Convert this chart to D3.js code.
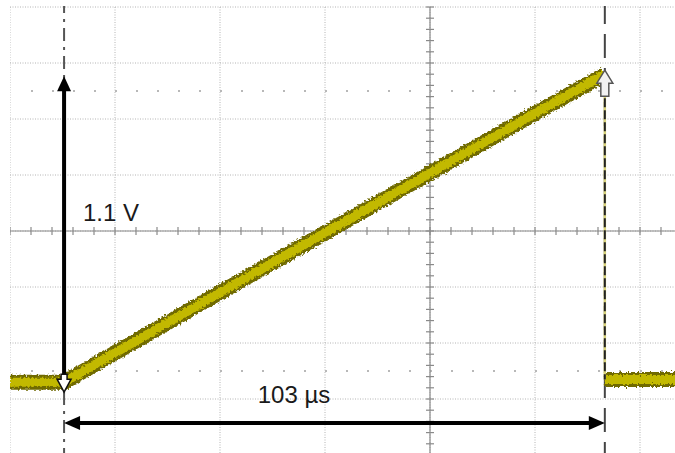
<!DOCTYPE html>
<html>
<head>
<meta charset="utf-8">
<script src="https://cdn.jsdelivr.net/npm/d3@7"></script>
<style>
  html, body { margin: 0; padding: 0; background: #fff; }
  svg { display: block; }
</style>
</head>
<body>
<div id="scope"></div>
<script>
// Oscilloscope capture: ramp of 1.1 V over 103 us (20 us/div, 0.2 V/div)

// trace (time in us from left graticule edge, volts from centre)
const rampTime = [0, 10.3, 40, 70, 100, 113.3];
const rampVolt = [-0.54, -0.54, -0.22, 0.10, 0.42, 0.56];
const tailTime = [113.3, 126.7];
const tailVolt = [-0.53, -0.53];

// cursors
const cursorTime = [10.3, 113.3];
const cursorVolt = [-0.54, 0.56];
const refLevels = [0.5, -0.5]; // dotted reference rows

const deltaV = "1.1 V";
const deltaT = "103 µs";

const W = 675, H = 453;

const x = d3.scaleLinear().domain([0, 140]).range([10, 745]);
const y = d3.scaleLinear().domain([-0.8, 0.8]).range([455, 7]);

const svg = d3.select("#scope").append("svg")
  .attr("width", W).attr("height", H);

const defs = svg.append("defs");
defs.append("clipPath").attr("id", "clip-screen")
  .append("rect").attr("x", 10).attr("y", 6).attr("width", W - 10).attr("height", H - 6);

const f = defs.append("filter").attr("id", "rough")
  .attr("x", "-5%").attr("y", "-5%").attr("width", "110%").attr("height", "110%");
f.append("feTurbulence").attr("type", "fractalNoise")
  .attr("baseFrequency", 0.5).attr("numOctaves", 2).attr("seed", 3).attr("result", "n");
f.append("feDisplacementMap").attr("in", "SourceGraphic").attr("in2", "n")
  .attr("scale", 6).attr("xChannelSelector", "R").attr("yChannelSelector", "G");

const screen = svg.append("g").attr("clip-path", "url(#clip-screen)");

// graticule
const xt = d3.range(0, 141, 20);
const yt = d3.range(-0.8, 0.81, 0.2);
screen.selectAll(".vgrid").data(xt).join("line")
  .attr("x1", d => x(d)).attr("x2", d => x(d))
  .attr("y1", y(0.8)).attr("y2", y(-0.8))
  .attr("stroke", "#b4b4b4").attr("stroke-width", 1)
  .attr("stroke-dasharray", "1,1.5");
screen.selectAll(".hgrid").data(yt).join("line")
  .attr("y1", d => y(d)).attr("y2", d => y(d))
  .attr("x1", x(0)).attr("x2", x(140))
  .attr("stroke", "#b4b4b4").attr("stroke-width", 1)
  .attr("stroke-dasharray", "1,1.5");

// dotted reference rows
screen.selectAll(".ref").data(refLevels).join("line")
  .attr("y1", d => y(d)).attr("y2", d => y(d))
  .attr("x1", x(0) + 21).attr("x2", W)
  .attr("stroke", "#b8b8b8").attr("stroke-width", 2)
  .attr("stroke-dasharray", "2,19");

// centre axes with minor ticks
const cx = x(80), cy = y(0);
screen.append("line").attr("x1", x(0)).attr("x2", W).attr("y1", cy).attr("y2", cy)
  .attr("stroke", "#8a8a8a").attr("stroke-width", 1.2);
screen.append("line").attr("x1", cx).attr("x2", cx).attr("y1", y(0.8)).attr("y2", y(-0.8))
  .attr("stroke", "#8a8a8a").attr("stroke-width", 1.2);
screen.selectAll(".xtick").data(d3.range(0, 141, 4)).join("line")
  .attr("x1", d => x(d)).attr("x2", d => x(d))
  .attr("y1", cy - 4).attr("y2", cy + 4)
  .attr("stroke", "#8a8a8a").attr("stroke-width", 1.2);
screen.selectAll(".ytick").data(d3.range(-0.8, 0.81, 0.04)).join("line")
  .attr("y1", d => y(d)).attr("y2", d => y(d))
  .attr("x1", cx - 4).attr("x2", cx + 4)
  .attr("stroke", "#8a8a8a").attr("stroke-width", 1.2);

// cursors
screen.append("line")
  .attr("x1", x(cursorTime[0])).attr("x2", x(cursorTime[0]))
  .attr("y1", 0).attr("y2", H)
  .attr("stroke", "#555").attr("stroke-width", 2)
  .attr("stroke-dasharray", "13,6,3,6");
screen.append("line")
  .attr("x1", x(cursorTime[1])).attr("x2", x(cursorTime[1]))
  .attr("y1", 0).attr("y2", H)
  .attr("stroke", "#444").attr("stroke-width", 2)
  .attr("stroke-dasharray", "24,10");

// trace
const line = d3.line().x(d => x(d[0])).y(d => y(d[1]));
const ramp = rampTime.map((t, i) => [t, rampVolt[i]]);
const tail = tailTime.map((t, i) => [t, tailVolt[i]]);

const tr = screen.append("g").attr("filter", "url(#rough)");
[ramp, tail].forEach(seg => {
  tr.append("path").attr("d", line(seg)).attr("fill", "none")
    .attr("stroke", "#6f6a00").attr("stroke-width", 15).attr("stroke-linecap", "butt");
  tr.append("path").attr("d", line(seg)).attr("fill", "none")
    .attr("stroke", "#c2b905").attr("stroke-width", 9).attr("stroke-linecap", "butt");
});

// falling edge
screen.append("line")
  .attr("x1", x(cursorTime[1])).attr("x2", x(cursorTime[1]))
  .attr("y1", y(rampVolt[rampVolt.length - 1])).attr("y2", y(tailVolt[0]))
  .attr("stroke", "#d8d27a").attr("stroke-width", 2.5);
screen.append("line")
  .attr("x1", x(cursorTime[1])).attr("x2", x(cursorTime[1]))
  .attr("y1", y(rampVolt[rampVolt.length - 1])).attr("y2", y(tailVolt[0]))
  .attr("stroke", "#222").attr("stroke-width", 2)
  .attr("stroke-dasharray", "9,3");

// measurement arrows
const ax = x(cursorTime[0]);
const yTop = y(cursorVolt[1]) + 2, yBot = y(cursorVolt[0]);
svg.append("line").attr("x1", ax).attr("x2", ax).attr("y1", yTop + 12).attr("y2", yBot - 4)
  .attr("stroke", "#000").attr("stroke-width", 4);
svg.append("path")
  .attr("d", `M${ax},${yTop} L${ax - 7},${yTop + 15} L${ax + 7},${yTop + 15} Z`)
  .attr("fill", "#000");
// hollow down marker
svg.append("path")
  .attr("d", `M${ax - 3},${yBot - 8} L${ax + 3},${yBot - 8} L${ax + 3},${yBot - 3} L${ax + 7},${yBot - 3} L${ax},${yBot + 10} L${ax - 7},${yBot - 3} L${ax - 3},${yBot - 3} Z`)
  .attr("fill", "#fff").attr("stroke", "#111").attr("stroke-width", 1.5);

const hy = 423;
const hx0 = x(cursorTime[0]), hx1 = x(cursorTime[1]);
svg.append("line").attr("x1", hx0 + 14).attr("x2", hx1 - 14).attr("y1", hy).attr("y2", hy)
  .attr("stroke", "#000").attr("stroke-width", 4);
svg.append("path")
  .attr("d", `M${hx0},${hy} L${hx0 + 16},${hy - 7} L${hx0 + 16},${hy + 7} Z`).attr("fill", "#000");
svg.append("path")
  .attr("d", `M${hx1},${hy} L${hx1 - 16},${hy - 7} L${hx1 - 16},${hy + 7} Z`).attr("fill", "#000");

// hollow up marker at end of ramp
const ux = x(cursorTime[1]), uy = y(cursorVolt[1]) - 4;
svg.append("path")
  .attr("d", `M${ux},${uy} L${ux + 8},${uy + 13} L${ux + 4},${uy + 13} L${ux + 4},${uy + 26} L${ux - 4},${uy + 26} L${ux - 4},${uy + 13} L${ux - 8},${uy + 13} Z`)
  .attr("fill", "#f2f2f2").attr("stroke", "#555").attr("stroke-width", 1.5);

// labels
svg.append("text").attr("x", 83).attr("y", 221)
  .attr("font-family", "Liberation Sans, Arial, sans-serif").attr("font-size", 24)
  .attr("fill", "#1a1a1a").text(deltaV);
svg.append("text").attr("x", 294).attr("y", 403).attr("text-anchor", "middle")
  .attr("font-family", "Liberation Sans, Arial, sans-serif").attr("font-size", 24)
  .attr("fill", "#1a1a1a").text(deltaT);
</script>
</body>
</html>
